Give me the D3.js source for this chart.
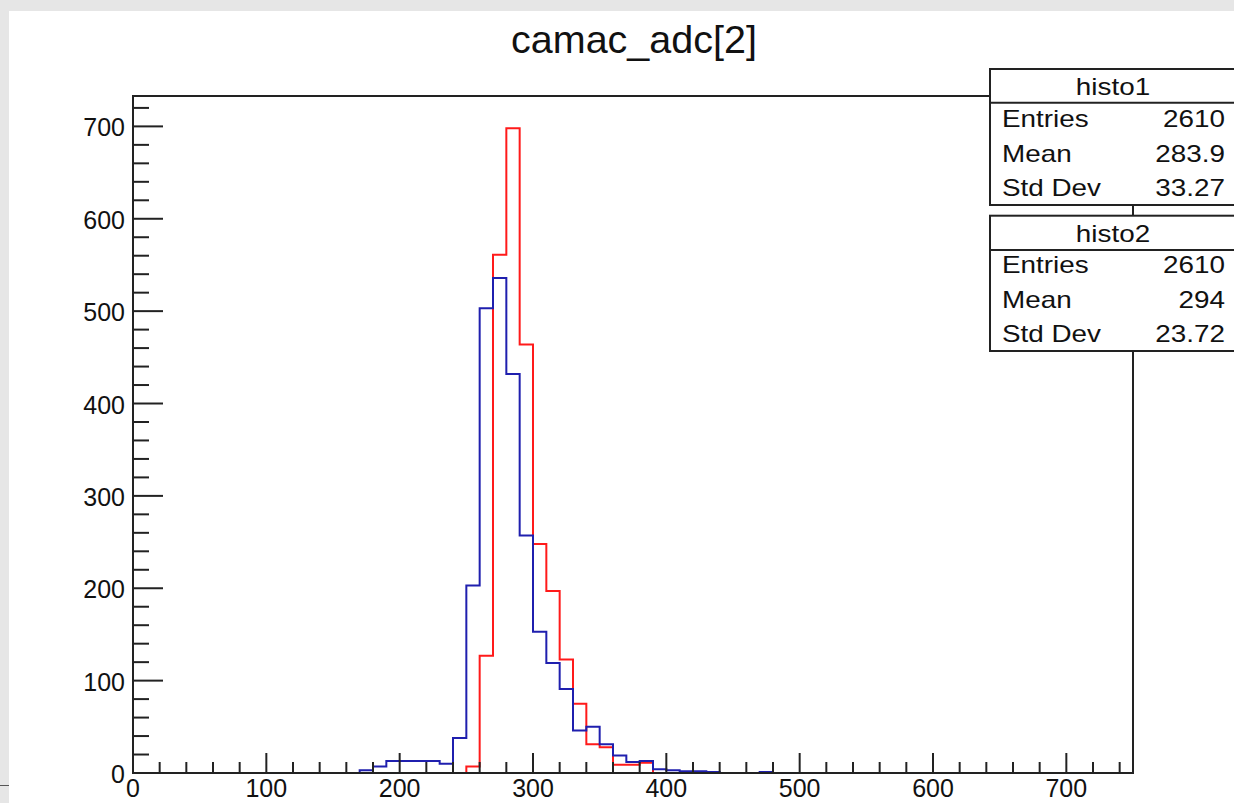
<!DOCTYPE html>
<html>
<head>
<meta charset="utf-8">
<script src="https://cdn.jsdelivr.net/npm/d3@7"></script>
<style>
html,body{margin:0;padding:0;background:#e6e6e6;}
svg{display:block;}
text{font-family:"Liberation Sans",Arial,Helvetica,sans-serif;fill:#111;}
</style>
</head>
<body>
<script>
// ---- data ----
const title = "camac_adc[2]";
const binLow = 0, binWidth = 10;
// histo1 (blue), 75 bins from 0 to 750
const histo1 = [
  0,0,0,0,0,0,0,0,0,0, 0,0,0,0,0,0,0,3,7,13,
  13,13,13,10,38,203,503,536,432,257, 153,119,91,46,50,31,19,12,13,4,
  3,2,2,1,0,0,0,1,0,0, 0,0,0,0,0,0,0,0,0,0,
  0,0,0,0,0,0,0,0,0,0, 0,0,0,0,0
];
// histo2 (red)
const histo2 = [
  0,0,0,0,0,0,0,0,0,0, 0,0,0,0,0,0,0,0,0,0,
  0,0,0,0,0,7,127,561,698,464, 248,197,123,75,31,28,9,9,11,0,
  0,0,0,0,0,0,0,0,0,0, 0,0,0,0,0,0,0,0,0,0,
  0,0,0,0,0,0,0,0,0,0, 0,0,0,0,0
];
const xTicks = [0,100,200,300,400,500,600,700];
const yTicks = [0,100,200,300,400,500,600,700];
const stats1 = {name:"histo1", rows:[["Entries","2610"],["Mean","283.9"],["Std Dev","33.27"]]};
const stats2 = {name:"histo2", rows:[["Entries","2610"],["Mean","294"],["Std Dev","23.72"]]};

// ---- layout ----
const W = 1234, H = 803;
const svg = d3.select("body").append("svg").attr("width", W).attr("height", H);
svg.append("rect").attr("x",0).attr("y",0).attr("width",W).attr("height",H).attr("fill","#e6e6e6");
svg.append("rect").attr("x",9).attr("y",11).attr("width",W-9).attr("height",H-11).attr("fill","#fff");
svg.append("line").attr("x1",0).attr("x2",9).attr("y1",785.5).attr("y2",785.5).attr("stroke","#555").attr("stroke-width",1);

const L = 133, R = 1133, T = 96, B = 773;
const x = d3.scaleLinear().domain([0,750]).range([L,R]);
const y = d3.scaleLinear().domain([0, 698*1.05]).range([B,T]);

// title
svg.append("text").attr("x",634).attr("y",53).attr("text-anchor","middle")
  .style("font-size","39.5px").text(title);

// histograms
function stepPts(vals){
  const pts = vals.map((v,i)=>[binLow+i*binWidth, v]);
  pts.push([binLow+vals.length*binWidth, vals[vals.length-1]]);
  return pts;
}
const line = d3.line().x(d=>x(d[0])).y(d=>y(d[1])).curve(d3.curveStepAfter);
svg.append("path").attr("d", line(stepPts(histo2))).attr("fill","none")
  .attr("stroke","#ff1a1a").attr("stroke-width",2);
svg.append("path").attr("d", line(stepPts(histo1))).attr("fill","none")
  .attr("stroke","#1f1fae").attr("stroke-width",2);

// frame
svg.append("rect").attr("x",L).attr("y",T).attr("width",R-L).attr("height",B-T)
  .attr("fill","none").attr("stroke","#222").attr("stroke-width",2);

// axes ticks
const xMinor = d3.range(0, 751, 20).filter(v=>v%100!==0);
const yMinor = d3.range(0, 734, 20).filter(v=>v%100!==0);
const gA = svg.append("g").attr("stroke","#222").attr("stroke-width",2);
xTicks.forEach(v=>gA.append("line").attr("x1",x(v)).attr("x2",x(v)).attr("y1",B).attr("y2",B-20));
xMinor.forEach(v=>gA.append("line").attr("x1",x(v)).attr("x2",x(v)).attr("y1",B).attr("y2",B-11));
yTicks.forEach(v=>gA.append("line").attr("x1",L).attr("x2",L+30).attr("y1",y(v)).attr("y2",y(v)));
yMinor.forEach(v=>gA.append("line").attr("x1",L).attr("x2",L+16).attr("y1",y(v)).attr("y2",y(v)));

// tick labels
svg.append("g").selectAll("text").data(xTicks).join("text")
  .attr("x",d=>x(d)).attr("y",797).attr("text-anchor","middle")
  .style("font-size","25px").text(d=>d);
svg.append("g").selectAll("text").data(yTicks).join("text")
  .attr("x",125).attr("y",d=>y(d)+10).attr("text-anchor","end")
  .style("font-size","25px").text(d=>d);

// stats boxes
function statBox(s, top, headBottom, bottom, baselines){
  const g = svg.append("g");
  g.append("rect").attr("x",990).attr("y",top).attr("width",260).attr("height",bottom-top)
    .attr("fill","#fff").attr("stroke","#222").attr("stroke-width",2);
  g.append("line").attr("x1",990).attr("x2",1240).attr("y1",headBottom).attr("y2",headBottom)
    .attr("stroke","#222").attr("stroke-width",2);
  const sx = 1.16;
  g.append("text").attr("transform",`translate(1113,${baselines[0]}) scale(${sx},1)`)
    .attr("text-anchor","middle").style("font-size","24px").text(s.name);
  s.rows.forEach((r,i)=>{
    g.append("text").attr("transform",`translate(1002,${baselines[i+1]}) scale(${sx},1)`)
      .style("font-size","24px").text(r[0]);
    g.append("text").attr("transform",`translate(1225,${baselines[i+1]}) scale(${sx},1)`)
      .attr("text-anchor","end").style("font-size","24px").text(r[1]);
  });
}
statBox(stats1, 69, 102.7, 205, [95,127,162,196]);
statBox(stats2, 215.7, 250, 351, [241.7,273.3,308.3,341.7]);
</script>
</body>
</html>
